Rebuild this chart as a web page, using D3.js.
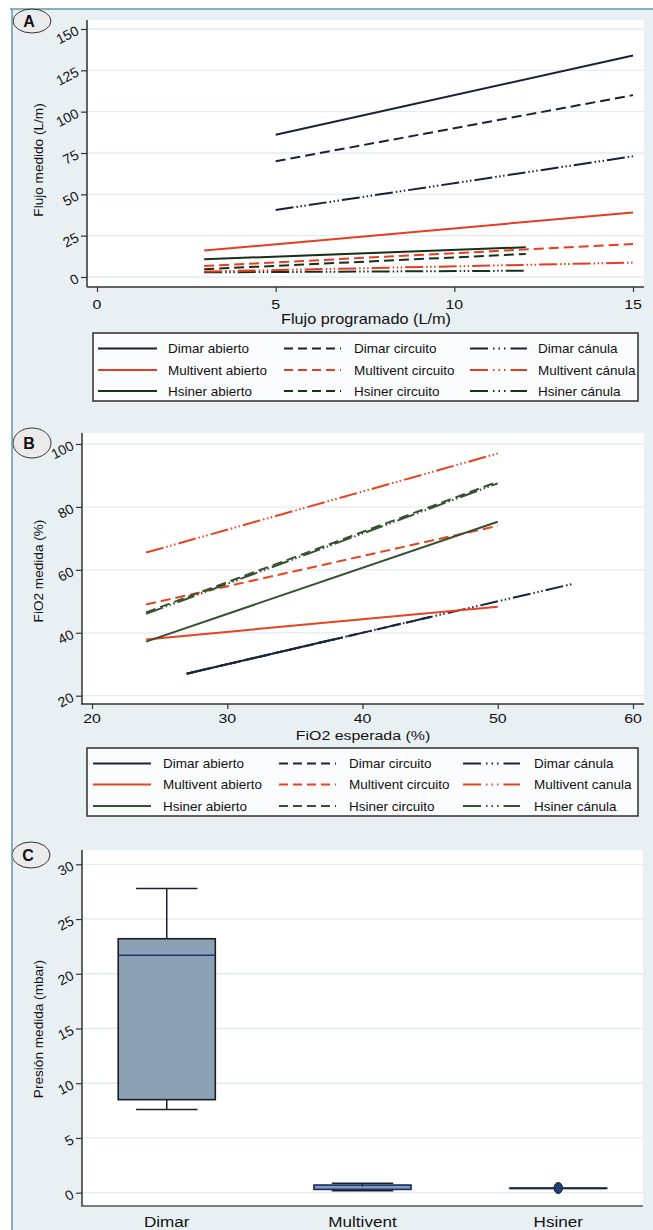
<!DOCTYPE html>
<html><head><meta charset="utf-8">
<script src="https://cdn.jsdelivr.net/npm/d3@7"></script>
<style>body{margin:0;background:#fff}svg{display:block}text{font-family:"Liberation Sans",Arial,Helvetica,sans-serif;fill:#111}</style>
</head><body><svg id="c" width="653" height="1230"></svg>
<script>
// ---------- DATA ----------
const seriesNamesA = ["Dimar abierto","Dimar circuito","Dimar cánula","Multivent abierto","Multivent circuito","Multivent cánula","Hsiner abierto","Hsiner circuito","Hsiner cánula"];
const seriesNamesB = ["Dimar abierto","Dimar circuito","Dimar cánula","Multivent abierto","Multivent circuito","Multivent canula","Hsiner abierto","Hsiner circuito","Hsiner cánula"];
const flowXStart = [5,5,5,3,3,3,3,3,3];
const flowXEnd   = [15,15,15,15,15,15,12,12,12];
const flowYStart = [86,70,40.5,16,6.6,3.3,10.7,4.7,2.8];
const flowYEnd   = [134,110,73,39,20,8.7,18,13.9,3.8];
const fio2XStart = [27,27,27,24,24,24,24,24,24];
const fio2XEnd   = [38,45,55.5,50,50,50,50,50,50];
const fio2YStart = [27,27,27,37.9,49,65.5,37.2,46.5,46];
const fio2YEnd   = [38,45,55.5,48.3,74,97,75.3,88,87.5];
const flowTicksX = [0,5,10,15];
const flowTicksY = [0,25,50,75,100,125,150];
const fio2TicksX = [20,30,40,50,60];
const fio2TicksY = [20,40,60,80,100];
const pressTicksY = [0,5,10,15,20,25,30];
const boxCats = ["Dimar","Multivent","Hsiner"];
const boxMin = [7.6,0.18,0.4];
const boxQ1  = [8.5,0.3,0.4];
const boxMed = [21.7,0.55,0.4];
const boxQ3  = [23.2,0.7,0.4];
const boxMax = [27.8,0.86,0.4];
const boxOutliers = [[],[],[0.43]];

// ---------- STYLE ----------
const SX = 1.18;
const colorsA = ["#1b2038","#e63c22","#16301a"];
const colorsB = ["#1b2341","#e8421f","#35512f"];
const dashPlot = [null,"10,5","18,3,1.5,2.5,1.5,2.5,1.5,3"];
const dashLeg = [null,"9,5","18,5,1.5,4,1.5,4,1.5,5,18"];
const svg = d3.select("#c");

// frame
svg.append("rect").attr("x",12).attr("y",9).attr("width",641).attr("height",1221).attr("fill","#e9f0f3");
svg.append("line").attr("x1",10).attr("x2",653).attr("y1",9).attr("y2",9).attr("stroke","#5e9aa8").attr("stroke-width",1.5);

function htext(g,x,y,str,size,anchor,weight){
  return g.append("text").attr("transform",`translate(${x},${y}) scale(${SX},1)`)
    .attr("text-anchor",anchor||"middle").style("font-size",size+"px")
    .style("font-weight",weight||"normal").text(str);
}
function panelLabel(cx,cy,ry,lab){
  svg.append("ellipse").attr("cx",cx).attr("cy",cy).attr("rx",19).attr("ry",ry)
    .attr("fill","#ebebeb").attr("stroke","#333").attr("stroke-width",1);
  svg.append("text").attr("x",cx-3).attr("y",cy+5.5).attr("text-anchor","middle")
    .style("font-size","16px").style("font-weight","bold").text(lab);
}
function yAxis(g,y,ticks,axX,r){
  g.selectAll(".grid").data(ticks).enter().append("line")
    .attr("x1",r.x0).attr("x2",r.x1).attr("y1",d=>y(d)).attr("y2",d=>y(d))
    .attr("stroke","#e3ecf0").attr("stroke-width",1.3);
  const ax = g.append("g").attr("transform",`translate(${axX},0)`)
    .call(d3.axisLeft(y).tickValues(ticks).tickSize(6).tickSizeOuter(0));
  ax.select(".domain").remove();
  ax.selectAll("line").attr("stroke","#333").attr("stroke-width",1.2);
  ax.selectAll("text").remove();
  g.selectAll(".yl").data(ticks).enter().append("text")
    .attr("text-anchor","end").style("font-size","14px")
    .attr("transform",d=>`translate(${axX-7},${y(d)+5}) rotate(-27)`).text(d=>d);
  g.append("line").attr("x1",axX).attr("x2",axX).attr("y1",r.y0).attr("y2",r.y1)
    .attr("stroke","#333").attr("stroke-width",1.5);
}
function xAxis(g,x,ticks,axY,r,labY){
  const ax = g.append("g").attr("transform",`translate(0,${axY})`)
    .call(d3.axisBottom(x).tickValues(ticks).tickSize(5).tickSizeOuter(0));
  ax.select(".domain").remove();
  ax.selectAll("line").attr("stroke","#333").attr("stroke-width",1.2);
  ax.selectAll("text").remove();
  ticks.forEach(t=>htext(g,x(t),labY,t,13.5,"middle"));
  g.append("line").attr("x1",r.x0-1).attr("x2",r.x1).attr("y1",axY).attr("y2",axY)
    .attr("stroke","#333").attr("stroke-width",1.5);
}
function legend(box,cols,rows,names,colors){
  const g = svg.append("g");
  g.append("rect").attr("x",box.x0).attr("y",box.y0).attr("width",box.x1-box.x0).attr("height",box.y1-box.y0)
    .attr("fill","#fbfcfd").attr("stroke","#3a3a3a").attr("stroke-width",1.6);
  names.forEach((n,i)=>{
    const dev = Math.floor(i/3), typ = i%3;
    const c = cols[typ], ry = rows[dev];
    g.append("line").attr("x1",c.l0).attr("x2",c.l1).attr("y1",ry).attr("y2",ry)
      .attr("stroke",colors[dev]).attr("stroke-width",2).attr("stroke-dasharray",dashLeg[typ]);
    g.append("text").attr("transform",`translate(${c.t},${ry+4.5}) scale(1.08,1)`)
      .style("font-size","12.5px").text(n);
  });
}

// ---------- PANEL A ----------
{
  const r = {x0:88,x1:644,y0:20,y1:287};
  const g = svg.append("g");
  g.append("rect").attr("x",r.x0).attr("y",r.y0).attr("width",r.x1-r.x0).attr("height",r.y1-r.y0).attr("fill","#fff");
  const x = d3.scaleLinear().domain([0,15]).range([97,633]);
  const y = d3.scaleLinear().domain([0,150]).range([277,29]);
  yAxis(g,y,flowTicksY,87,r);
  xAxis(g,x,flowTicksX,287,r,309);
  const order = [8,7,6,5,4,3,2,1,0];
  order.forEach(i=>{
    const dev=Math.floor(i/3), typ=i%3;
    g.append("path").datum([[flowXStart[i],flowYStart[i]],[flowXEnd[i],flowYEnd[i]]])
      .attr("d",d3.line().x(d=>x(d[0])).y(d=>y(d[1])))
      .attr("fill","none").attr("stroke",colorsA[dev]).attr("stroke-width",2)
      .attr("stroke-dasharray",dashPlot[typ]);
  });
  htext(g,366,324,"Flujo programado (L/m)",13.8,"middle");
  g.append("text").attr("transform","translate(43,160) rotate(-90)").attr("text-anchor","middle")
    .style("font-size","13.6px").text("Flujo medido (L/m)");
  legend({x0:93,x1:638,y0:333,y1:401},
    [{l0:98,l1:157,t:168},{l0:284,l1:341,t:354},{l0:470,l1:527,t:538}],
    [348.5,370,391],seriesNamesA,colorsA);
}

// ---------- PANEL B ----------
{
  const r = {x0:82,x1:644,y0:433,y1:704};
  const g = svg.append("g");
  g.append("rect").attr("x",r.x0).attr("y",r.y0).attr("width",r.x1-r.x0).attr("height",r.y1-r.y0).attr("fill","#fff");
  const x = d3.scaleLinear().domain([20,60]).range([92,633]);
  const y = d3.scaleLinear().domain([20,100]).range([695.7,444]);
  yAxis(g,y,fio2TicksY,82,r);
  xAxis(g,x,fio2TicksX,704,r,723);
  const order = [1,0,2,3,4,6,5,7,8];
  order.forEach(i=>{
    const dev=Math.floor(i/3), typ=i%3;
    g.append("path").datum([[fio2XStart[i],fio2YStart[i]],[fio2XEnd[i],fio2YEnd[i]]])
      .attr("d",d3.line().x(d=>x(d[0])).y(d=>y(d[1])))
      .attr("fill","none").attr("stroke",colorsB[dev]).attr("stroke-width",2)
      .attr("stroke-dasharray",dashPlot[typ]);
  });
  htext(g,363,740,"FiO2 esperada (%)",13.5,"middle");
  g.append("text").attr("transform","translate(43,571) rotate(-90)").attr("text-anchor","middle")
    .style("font-size","13.6px").text("FiO2 medida (%)");
  legend({x0:87,x1:638,y0:748,y1:816},
    [{l0:93,l1:151,t:163},{l0:279,l1:336,t:349},{l0:463,l1:520,t:534}],
    [763.5,784.5,806],seriesNamesB,colorsB);
}

// ---------- PANEL C ----------
{
  const r = {x0:82,x1:643,y0:850,y1:1206};
  const g = svg.append("g");
  g.append("rect").attr("x",r.x0).attr("y",r.y0).attr("width",r.x1-r.x0).attr("height",r.y1-r.y0).attr("fill","#fff");
  const y = d3.scaleLinear().domain([0,30]).range([1192.7,864.3]);
  const x = d3.scalePoint().domain(boxCats).range([r.x0,r.x1]).padding(0.433);
  yAxis(g,y,pressTicksY,82,r);
  g.append("line").attr("x1",r.x0-1).attr("x2",r.x1).attr("y1",r.y1).attr("y2",r.y1)
    .attr("stroke","#555").attr("stroke-width",1.5);
  boxCats.forEach(c=>htext(g,x(c),1227,c,14.5,"middle"));
  const bw = x.step()*0.248, cw = x.step()*0.157;
  const fills = ["#8da1b5","#7d9ccc","#6f8fc0"];
  boxCats.forEach((c,i)=>{
    const cx = x(c);
    g.append("line").attr("x1",cx).attr("x2",cx).attr("y1",y(boxQ3[i])).attr("y2",y(boxMax[i])).attr("stroke","#1e2230").attr("stroke-width",1.5);
    g.append("line").attr("x1",cx).attr("x2",cx).attr("y1",y(boxQ1[i])).attr("y2",y(boxMin[i])).attr("stroke","#1e2230").attr("stroke-width",1.5);
    if (boxMax[i]!==boxQ3[i]) {
      g.append("line").attr("x1",cx-cw).attr("x2",cx+cw).attr("y1",y(boxMax[i])).attr("y2",y(boxMax[i])).attr("stroke","#1e2230").attr("stroke-width",1.5);
      g.append("line").attr("x1",cx-cw).attr("x2",cx+cw).attr("y1",y(boxMin[i])).attr("y2",y(boxMin[i])).attr("stroke","#1e2230").attr("stroke-width",1.5);
    }
    g.append("rect").attr("x",cx-bw).attr("width",bw*2)
      .attr("y",y(boxQ3[i])).attr("height",Math.max(0.01,y(boxQ1[i])-y(boxQ3[i])))
      .attr("fill",fills[i]).attr("stroke",i===0?"#1a1c26":"#1d2a55").attr("stroke-width",1.6);
    if (i===0) {
      g.append("line").attr("x1",cx-bw).attr("x2",cx+bw).attr("y1",y(boxMed[i])).attr("y2",y(boxMed[i])).attr("stroke","#262f6e").attr("stroke-width",1.5);
    } else if (i===1) {
      g.append("line").attr("x1",cx).attr("x2",cx).attr("y1",y(boxMax[i])).attr("y2",y(boxMed[i])).attr("stroke","#1e2230").attr("stroke-width",1);
    } else {
      g.append("line").attr("x1",cx-bw).attr("x2",cx+bw).attr("y1",y(boxMed[i])).attr("y2",y(boxMed[i])).attr("stroke","#1e2538").attr("stroke-width",2);
    }
    boxOutliers[i].forEach(o=>{
      g.append("ellipse").attr("cx",cx).attr("cy",y(o)).attr("rx",4.2).attr("ry",5.5)
        .attr("fill","#1d3f73").attr("stroke","#111a33").attr("stroke-width",1);
    });
  });
  g.append("text").attr("transform","translate(43,1029) rotate(-90)").attr("text-anchor","middle")
    .style("font-size","13.6px").text("Presión medida (mbar)");
}

// panel labels and left frame line
panelLabel(32,21,12,"A");
panelLabel(32,443,15,"B");
panelLabel(31,855,13,"C");
svg.append("line").attr("x1",12).attr("x2",12).attr("y1",9).attr("y2",1230).attr("stroke","#5e9aa8").attr("stroke-width",1.5);
</script></body></html>
